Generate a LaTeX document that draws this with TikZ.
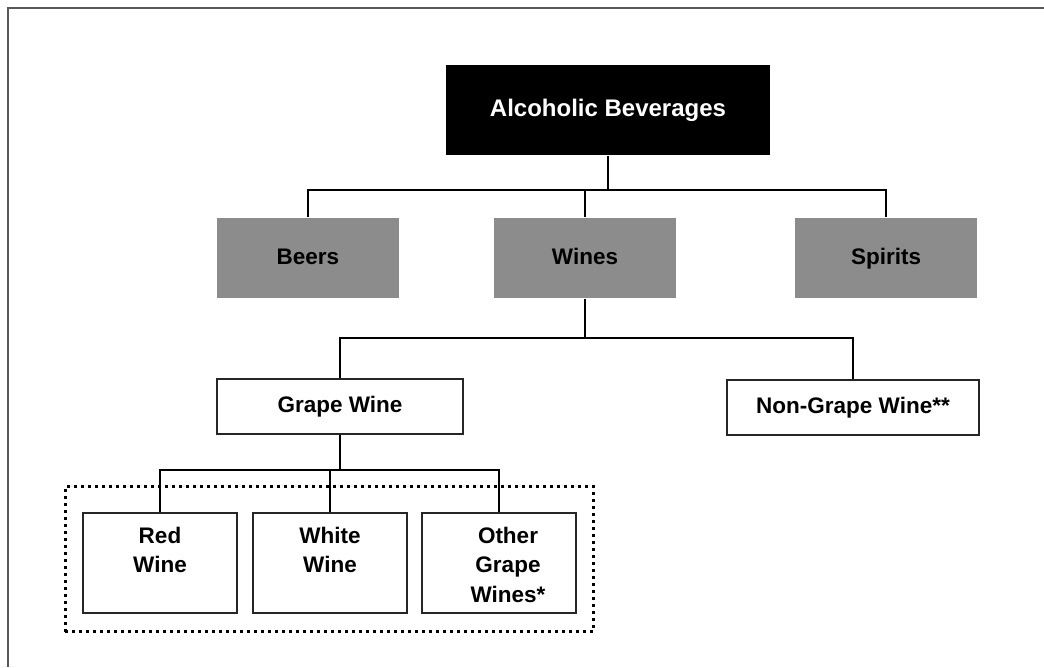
\documentclass[tikz,border=0pt]{standalone}
\usepackage{fontspec}
\setmainfont{Liberation Sans}
\usetikzlibrary{fit}

\begin{document}
\begin{tikzpicture}[x=1pt,y=1pt,line width=1.2pt]
    %
    % `head' is the black box on top, `group' the three grey boxes.
    % `kind' is used for the two kinds of wine, `leaf' for the grape wines.
    % `surround' is the dotted box round the grape wines.
    \tikzstyle{head} = [fill=black,text=white,minimum width=324pt,minimum height=90pt,font=\fontsize{24}{28}\selectfont\bfseries]
    \tikzstyle{group} = [fill=black!45,minimum width=182pt,minimum height=80pt,text height=16pt,text depth=4pt,font=\fontsize{22.5}{28}\selectfont\bfseries]
    \tikzstyle{kind} = [draw=black!85,fill=white,minimum height=55pt,font=\fontsize{22.5}{28}\selectfont\bfseries]
    \tikzstyle{leaf} = [draw=black!85,fill=white,minimum width=154pt,minimum height=100pt]
    \tikzstyle{leaftext} = [anchor=north,yshift=-14pt,align=center,inner sep=0pt,font=\fontsize{22.5}{29.5}\selectfont\bfseries]
    \tikzstyle{surround} = [draw,line width=3pt,dash pattern=on 3pt off 4pt,inner xsep=17pt,inner ysep=22pt]
    %
    % Frame
    \useasboundingbox (0,0) rectangle (1044,-667);
    \draw[black!65,line width=1.5pt] (8,-667) -- (8,-8) -- (1044,-8);
    %
    % Top
    \node[head] (alc) at (608,-110) {Alcoholic Beverages};
    %
    % Row 1
    \node[group] (beers) at (308,-258) {Beers};
    \node[group] (wines) at (585,-258) {Wines};
    \node[group] (spirits) at (886,-258) {Spirits};
    \coordinate (bar1) at (608,-190);
    \draw (alc.south) -- (bar1);
    \draw (bar1) -| (beers.north);
    \draw (bar1) -| (wines.north);
    \draw (bar1) -| (spirits.north);
    %
    % Row 2
    \node[kind,minimum width=246pt] (grape) at (340,-406.5) {Grape Wine};
    \node[kind,minimum width=252pt] (nongrape) at (853,-407.5) {Non-Grape Wine**};
    \coordinate (bar2) at (585,-338);
    \draw (wines.south) -- (bar2);
    \draw (bar2) -| (grape.north);
    \draw (bar2) -| (nongrape.north);
    %
    % Row 3
    \node[leaf,label={[leaftext]north:Red\\Wine}] (red) at (160,-563) {};
    \node[leaf,label={[leaftext]north:White\\Wine}] (white) at (330,-563) {};
    \node[leaf,label={[leaftext,xshift=9pt]north:Other\\Grape\\Wines*}] (other) at (499,-563) {};
    \coordinate (bar3) at (340,-470);
    \draw (grape.south) -- (bar3);
    \foreach \w in {red,white,other}
        \draw (bar3) -| (\w.north);
    %
    % Dotted box
    \node[surround,fit=(red)(other),yshift=4pt] (grapeset) {};
    %
\end{tikzpicture}
\end{document}
